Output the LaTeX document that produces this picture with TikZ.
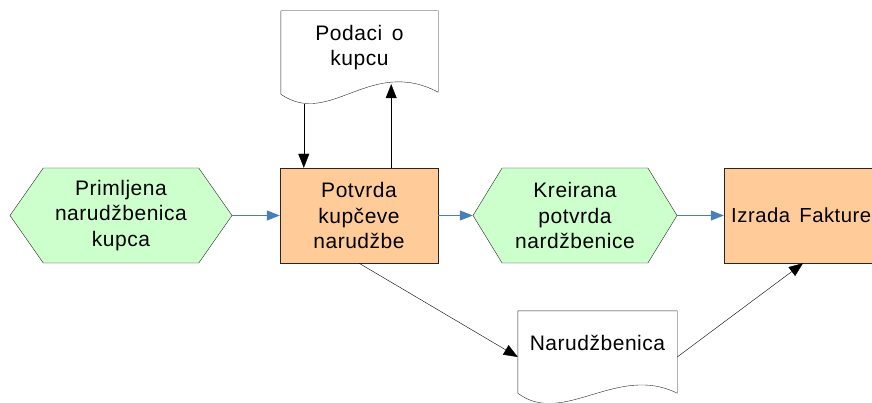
\documentclass[tikz,border=0pt]{standalone}
\usepackage{fontspec}
\setmainfont{Liberation Sans}[LetterSpace=2.5, WordSpace=1.5]
\usetikzlibrary{shapes.symbols,arrows.meta,positioning,calc}

\definecolor{eventgreen}{HTML}{CCFFCC}
\definecolor{funcorange}{HTML}{FFCC99}
\definecolor{flowblue}{HTML}{4A7EBB}
\definecolor{edgegray}{HTML}{262626}

\begin{document}
\begin{tikzpicture}[x=1pt,y=-1pt,
    every node/.style={font=\fontsize{21}{25.5}\selectfont, align=center},
    event/.style={shape=signal, signal to=west and east, draw=edgegray,
      fill=eventgreen, minimum height=95pt, inner sep=0pt},
    func/.style={rectangle, draw=edgegray, fill=funcorange,
      minimum width=158pt, minimum height=95pt, inner sep=0pt},
    doc/.style={rectangle, minimum width=157pt, inner sep=0pt},
    flow/.style={-{Triangle[length=13pt,width=10pt]}, flowblue, line width=1pt},
    info/.style={-{Triangle[length=14pt,width=11pt]}, black}]

    \clip (0,0) rectangle (872,403);

    % Events and functions
    \node[event, minimum width=222pt, signal pointer angle=110] (primljena)
      at (121,215.5) {Primljena\\narudžbenica\\kupca};
    \node[func] (potvrda) at (359,215.5) {Potvrda\\kupčeve\\narudžbe};
    \node[event, minimum width=204pt, signal pointer angle=117] (kreirana)
      at (575,215.5) {Kreirana\\potvrda\\nardžbenice};
    \node[func] (izrada) at (803,215.5) {};
    \node[anchor=west, inner sep=0pt, font=\fontsize{20.3}{25.5}\selectfont]
      (izradatext) at (731,215.5) {Izrada Fakture};

    % Documents
    \node[doc, minimum height=73pt] (podaci) at (359.5,47.5) {Podaci o\\kupcu};
    \draw[edgegray] (podaci.north west) -- ([yshift=-10pt]podaci.south west)
      .. controls +(49,34) and +(-68,-36) .. ([yshift=-8pt]podaci.south east)
      -- (podaci.north east) -- cycle;

    \node[doc, minimum height=64pt, minimum width=159pt] (narudzbenica)
      at (597.5,343) {Narudžbenica};
    \draw[edgegray] (narudzbenica.north west) -- ([yshift=-18pt]narudzbenica.south west)
      .. controls +(45,34) and +(-60,-30) .. ([yshift=-18pt]narudzbenica.south east)
      -- (narudzbenica.north east) -- cycle;

    % Control flow
    \draw[flow] (primljena.east) -- (potvrda.west);
    \draw[flow] (potvrda.east) -- (kreirana.west);
    \draw[flow] (kreirana.east) -- (izrada.west);

    % Information flow
    \draw[info] ([xshift=23pt,yshift=-20pt]podaci.south west)
      -- ([xshift=24pt]potvrda.north west);
    \draw[info] ([xshift=-47pt]potvrda.north east)
      -- ([xshift=-47pt]podaci.south east);
    \draw[info] (potvrda.south) -- ([yshift=-14pt]narudzbenica.west);
    \draw[info] ([yshift=-14pt]narudzbenica.east) -- (izrada.south);
\end{tikzpicture}
\end{document}
